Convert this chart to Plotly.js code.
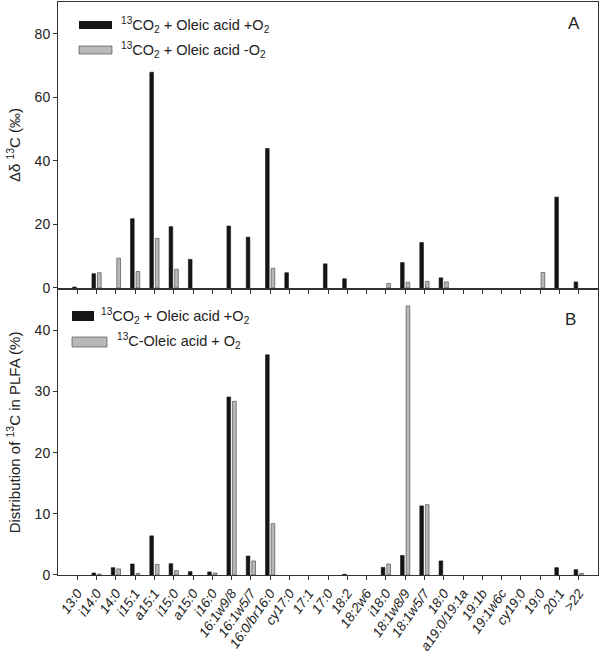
<!DOCTYPE html>
<html>
<head>
<meta charset="utf-8">
<script src="https://cdn.plot.ly/plotly-3.0.1.min.js"></script>
<style>
html,body{margin:0;padding:0;background:#fff;}
#chart{width:600px;height:654px;}
</style>
</head>
<body>
<div id="chart"></div>
<script>
// Categories (PLFA)
var categories = ["13:0","i14:0","14:0","i15:1","a15:1","i15:0","a15:0","i16:0","16:1w9/8","16:1w5/7","16:0/br16:0","cy17:0","17:1","17:0","18:2","18:2w6","i18:0","18:1w8/9","18:1w5/7","18:0","a19:0/19:1a","19:1b","19:1w6c","cy19:0","19:0","20:1",">22"];

// Panel A: Δδ13C (‰)
var panelA_plusO2  = [0.3,4.5,null,21.8,67.9,19.3,9.0,null,19.5,16.0,43.9,4.8,null,7.6,2.9,null,null,8.0,14.3,3.2,null,null,null,null,null,28.6,1.9];
var panelA_minusO2 = [null,4.8,9.4,5.2,15.6,5.9,null,null,null,null,6.2,null,null,null,null,null,1.4,1.8,2.1,1.9,null,null,null,null,4.9,null,null];

// Panel B: Distribution of 13C in PLFA (%)
var panelB_co2     = [null,0.33,1.2,1.8,6.4,1.85,0.55,0.5,29.1,3.1,36.0,null,null,null,0.12,null,1.25,3.2,11.3,2.3,null,null,null,null,null,1.2,0.87];
var panelB_oleic   = [null,0.15,1.0,0.27,1.74,0.7,null,0.33,28.4,2.3,8.4,null,null,null,null,null,1.8,44.0,11.5,null,null,null,null,null,null,null,0.27];

var yTicksA = [0,20,40,60,80];
var yTicksB = [0,10,20,30,40];

var nameA1 = "<sup>13</sup>CO<sub>2</sub> + Oleic acid +O<sub>2</sub>";
var nameA2 = "<sup>13</sup>CO<sub>2</sub> + Oleic acid -O<sub>2</sub>";
var nameB1 = "<sup>13</sup>CO<sub>2</sub> + Oleic acid +O<sub>2</sub>";
var nameB2 = "<sup>13</sup>C-Oleic acid + O<sub>2</sub>";

var BLACK = "#151515", GRAY = "#b9b9b9", EDGE = "#3a3a3a";
var FONT = "Liberation Sans, Arial, sans-serif";

function bar(y, name, color, off, xa, ya){
  return {type:"bar", x:categories, y:y, name:name, xaxis:xa, yaxis:ya,
    width:0.19, offset:off, showlegend:false,
    marker:{color:color, line:{color:(color===BLACK?BLACK:EDGE), width:0.6}}};
}

var data = [
  bar(panelA_plusO2, nameA1, BLACK, -0.24, "x", "y"),
  bar(panelA_minusO2, nameA2, GRAY, 0.05, "x", "y"),
  bar(panelB_co2, nameB1, BLACK, -0.24, "x2", "y2"),
  bar(panelB_oleic, nameB2, GRAY, 0.05, "x2", "y2")
];

var axisCommon = {showline:true, linecolor:"#333", linewidth:1, mirror:true,
  ticks:"outside", ticklen:4, tickcolor:"#333", showgrid:false, zeroline:false};

var layout = {
  width:600, height:654,
  margin:{l:58, r:2, t:2, b:79},
  paper_bgcolor:"#fff", plot_bgcolor:"#fff",
  font:{family:FONT, color:"#222"},
  barmode:"overlay",
  showlegend:false,
  xaxis: Object.assign({}, axisCommon, {type:"category", categoryorder:"array", categoryarray:categories,
    range:[-1,27], showticklabels:false, ticklen:5, domain:[0,1], anchor:"y"}),
  yaxis: Object.assign({}, axisCommon, {domain:[0.5009,1], range:[0,90], tickvals:yTicksA,
    tickfont:{size:14, color:"#222"}, anchor:"x",
    title:{text:"Δδ <sup>13</sup>C (‰)", font:{size:15, color:"#222"}, standoff:10}}),
  xaxis2: Object.assign({}, axisCommon, {type:"category", categoryorder:"array", categoryarray:categories,
    range:[-1,27], tickangle:-55, tickfont:{size:13.5, color:"#222", style:"italic"}, anchor:"y2", domain:[0,1]}),
  yaxis2: Object.assign({}, axisCommon, {domain:[0,0.4974], range:[0,46.6], tickvals:yTicksB,
    tickfont:{size:14, color:"#222"}, anchor:"x2",
    title:{text:"Distribution of <sup>13</sup>C in PLFA (%)", font:{size:15, color:"#222"}, standoff:10}}),
  shapes:[
    {type:"rect", xref:"paper", yref:"paper", x0:(79-58)/540, x1:(112-58)/540, y0:(575-29)/573, y1:(575-21)/573, fillcolor:BLACK, line:{width:0}},
    {type:"rect", xref:"paper", yref:"paper", x0:(79-58)/540, x1:(112-58)/540, y0:(575-54)/573, y1:(575-46)/573, fillcolor:GRAY, line:{color:EDGE, width:0.6}},
    {type:"rect", xref:"paper", yref:"paper", x0:(72-58)/540, x1:(94-58)/540, y0:(575-321)/573, y1:(575-311)/573, fillcolor:BLACK, line:{width:0}},
    {type:"rect", xref:"paper", yref:"paper", x0:(72-58)/540, x1:(107-58)/540, y0:(575-347)/573, y1:(575-337)/573, fillcolor:GRAY, line:{color:EDGE, width:0.6}}
  ],
  annotations:[
    {text:nameA1, xref:"paper", yref:"paper", x:(119-58)/540, y:(575-25)/573, xanchor:"left", yanchor:"middle", showarrow:false, font:{size:14.5, color:"#222"}},
    {text:nameA2, xref:"paper", yref:"paper", x:(119-58)/540, y:(575-50)/573, xanchor:"left", yanchor:"middle", showarrow:false, font:{size:14.5, color:"#222"}},
    {text:nameB1, xref:"paper", yref:"paper", x:(99-58)/540, y:(575-316)/573, xanchor:"left", yanchor:"middle", showarrow:false, font:{size:14.5, color:"#222"}},
    {text:nameB2, xref:"paper", yref:"paper", x:(115-58)/540, y:(575-341)/573, xanchor:"left", yanchor:"middle", showarrow:false, font:{size:14.5, color:"#222"}},
    {text:"A", xref:"paper", yref:"paper", x:(574-58)/540, y:(575-24)/573, xanchor:"center", yanchor:"middle", showarrow:false, font:{size:17, color:"#222"}},
    {text:"B", xref:"paper", yref:"paper", x:(570-58)/540, y:(575-319)/573, xanchor:"center", yanchor:"middle", showarrow:false, font:{size:17, color:"#222"}}
  ]
};

Plotly.newPlot("chart", data, layout, {staticPlot:true, displayModeBar:false});
</script>
</body>
</html>
